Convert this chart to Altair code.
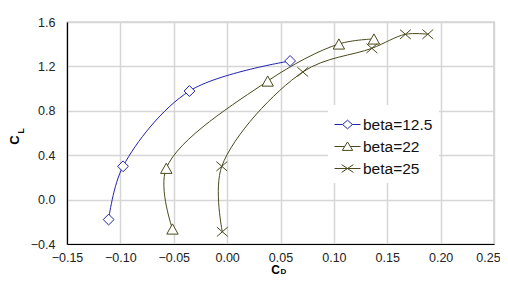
import altair as alt
import pandas as pd

series_names = ["beta=12.5", "beta=22", "beta=25"]

cd_125 = [-0.111, -0.0975, -0.0353, 0.059]
cl_125 = [-0.18, 0.30, 0.978, 1.249]

cd_22 = [-0.0512, -0.057, 0.038, 0.1047, 0.1375]
cl_22 = [-0.265, 0.282, 1.068, 1.402, 1.447]

cd_25 = [-0.0045, -0.005, 0.0709, 0.1356, 0.167, 0.188]
cl_25 = [-0.29, 0.30, 1.15, 1.363, 1.489, 1.49]

x_ticks = [-0.15, -0.10, -0.05, 0.00, 0.05, 0.10, 0.15, 0.20, 0.25]
y_ticks = [-0.4, 0.0, 0.4, 0.8, 1.2, 1.6]

colors = ["#1f22ad", "#4a4a1c", "#4a4a1c"]

rows = []
for name, xs, ys in zip(series_names, [cd_125, cd_22, cd_25], [cl_125, cl_22, cl_25]):
    for i, (a, b) in enumerate(zip(xs, ys)):
        rows.append({"series": name, "cd": a, "cl": b, "idx": i})
df = pd.DataFrame(rows)

FONT = "Liberation Sans"

point_paths = [
    "M0,-0.9L0.9,0L0,0.9L-0.9,0Z",
    "M0,-0.85L0.95,0.85L-0.95,0.85Z",
    "M-0.9,-0.78L0.9,0.78M-0.9,0.78L0.9,-0.78",
]
legend_paths = [
    "M-1,0L-0.38,0M0.38,0L1,0M0,-0.33L0.38,0L0,0.33L-0.38,0Z",
    "M-1,0L-0.215,0M0.215,0L1,0M0,-0.35L0.4,0.3L-0.4,0.3Z",
    "M-1,0L1,0M-0.45,-0.3L0.45,0.3M-0.45,0.3L0.45,-0.3",
]

xenc = alt.X("cd:Q", scale=alt.Scale(domain=[-0.15, 0.25], nice=False, zero=False),
             axis=alt.Axis(values=x_ticks, format=".2f", title=None, ticks=False,
                           labelFontSize=12.5, labelFont=FONT, labelColor="#222",
                           labelPadding=7, domainColor="#000", domainWidth=1.2,
                           gridColor="#d6d6d6", gridWidth=1.5, labelFlush=False,
                           labelOffset={"condition": {"test": "datum.value >= 0.249", "value": -6},
                                        "value": 0}))
yenc = alt.Y("cl:Q", scale=alt.Scale(domain=[-0.4, 1.6], nice=False, zero=False),
             axis=alt.Axis(values=y_ticks, format=".1f", title=None, ticks=False,
                           labelFontSize=12.5, labelFont=FONT, labelColor="#222",
                           labelPadding=12, domainColor="#000", domainWidth=1.2,
                           gridColor="#d6d6d6", gridWidth=1.5, labelFlush=False))
cscale = alt.Scale(domain=series_names, range=colors)

base = alt.Chart(df)

lines = base.mark_line(interpolate="catmull-rom", strokeWidth=1).encode(
    x=xenc, y=yenc,
    color=alt.Color("series:N", scale=cscale, legend=None),
    order="idx:Q",
    detail="series:N",
)

points = base.mark_point(filled=False, fill="white", strokeWidth=1, size=144, opacity=1).encode(
    x=xenc, y=yenc,
    color=alt.Color("series:N", scale=cscale, legend=None),
    shape=alt.Shape("series:N", scale=alt.Scale(domain=series_names, range=point_paths), legend=None),
)

leg = alt.Legend(title=None, orient="none", legendX=261, legendY=83,
                 fillColor="white", padding=6,
                 symbolSize=676, symbolStrokeWidth=1,
                 symbolFillColor="white", symbolOpacity=1,
                 labelFontSize=15.5, labelFont=FONT, labelColor="#111",
                 labelOffset=2, rowPadding=0)

legend_layer = base.mark_point(filled=False, opacity=0, size=10).encode(
    x=xenc, y=yenc,
    color=alt.Color("series:N", scale=cscale, legend=leg),
    shape=alt.Shape("series:N", scale=alt.Scale(domain=series_names, range=legend_paths),
                    legend=leg),
)

tdf = pd.DataFrame({"t": ["C"]})
yC = alt.Chart(tdf).mark_text(text="C", font=FONT, fontWeight="bold", fontSize=13, angle=270,
                              baseline="middle", align="center", color="#000").encode(
    x=alt.value(-52), y=alt.value(118))
yL = alt.Chart(tdf).mark_text(text="L", font=FONT, fontWeight="bold", fontSize=8.5, angle=270,
                              baseline="middle", align="center", color="#000").encode(
    x=alt.value(-46.5), y=alt.value(109))
xC = alt.Chart(tdf).mark_text(text="C", font=FONT, fontWeight="bold", fontSize=12,
                              baseline="middle", align="center", color="#000").encode(
    x=alt.value(208.5), y=alt.value(247.6))
xD = alt.Chart(tdf).mark_text(text="D", font=FONT, fontWeight="bold", fontSize=8,
                              baseline="middle", align="center", color="#000").encode(
    x=alt.value(216.5), y=alt.value(249.5))

chart = alt.layer(lines, points, legend_layer, yC, yL, xC, xD).resolve_scale(
    shape="independent", color="independent"
).properties(
    width=427, height=222,
    autosize=alt.AutoSizeParams(type="none"),
    padding={"left": 59, "top": 14, "right": 6, "bottom": 31},
    background="white",
).configure_view(
    stroke="#808080", strokeWidth=1.2
)

chart.save("out.html", embed_options={"renderer": "svg", "actions": False})
